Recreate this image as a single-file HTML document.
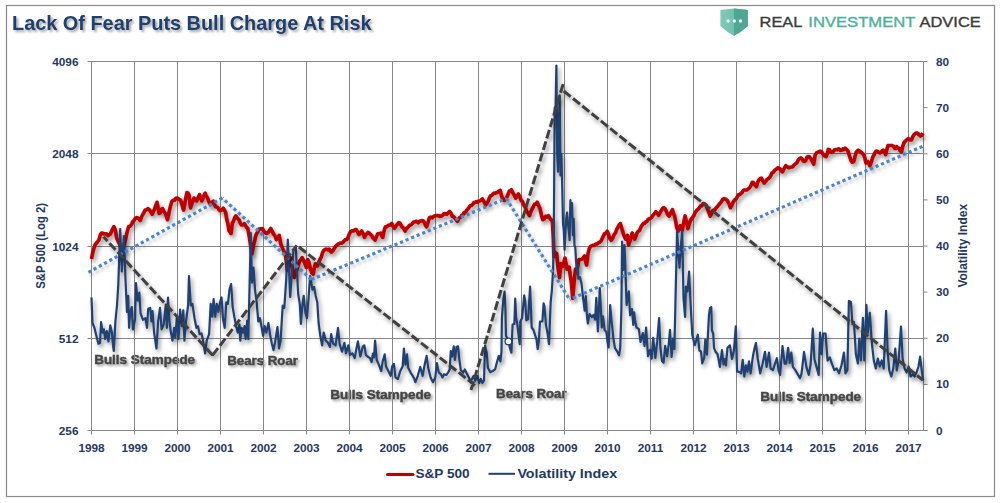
<!DOCTYPE html><html><head><meta charset="utf-8"><title>Lack Of Fear Puts Bull Charge At Risk</title><style>html,body{margin:0;padding:0;background:#fff;overflow:hidden;}svg{display:block;}.ax{font-family:"Liberation Sans",Arial,sans-serif;font-weight:bold;fill:#1F3864;}.an{font-family:"Liberation Sans",Arial,sans-serif;font-weight:bold;fill:#454545;stroke:#454545;stroke-width:0.45px;}</style></head><body><svg width="1004" height="503" viewBox="0 0 1004 503"><defs><filter id="sh" x="-5%" y="-5%" width="110%" height="110%" color-interpolation-filters="sRGB"><feGaussianBlur in="SourceAlpha" stdDeviation="1.9"/><feOffset dx="2.4" dy="3.2" result="b"/><feFlood flood-color="#000" flood-opacity="0.42"/><feComposite in2="b" operator="in"/><feMerge><feMergeNode/><feMergeNode in="SourceGraphic"/></feMerge></filter><filter id="tsh" x="-5%" y="-20%" width="110%" height="140%" color-interpolation-filters="sRGB"><feGaussianBlur in="SourceAlpha" stdDeviation="0.9"/><feOffset dx="1.5" dy="1.5" result="b"/><feFlood flood-color="#000" flood-opacity="0.35"/><feComposite in2="b" operator="in"/><feMerge><feMergeNode/><feMergeNode in="SourceGraphic"/></feMerge></filter><filter id="sh2" x="-5%" y="-5%" width="110%" height="110%" color-interpolation-filters="sRGB"><feGaussianBlur in="SourceAlpha" stdDeviation="1.5"/><feOffset dx="2" dy="2.5" result="b"/><feFlood flood-color="#000" flood-opacity="0.22"/><feComposite in2="b" operator="in"/><feMerge><feMergeNode/><feMergeNode in="SourceGraphic"/></feMerge></filter><linearGradient id="shl" x1="0" x2="1" y1="0" y2="0"><stop offset="0" stop-color="#7fcab8"/><stop offset="1" stop-color="#5bb8a3"/></linearGradient></defs><rect x="0" y="0" width="1004" height="503" fill="#fff"/><rect x="6.5" y="5.5" width="988" height="491" fill="none" stroke="#8a8a8a" stroke-width="1.2"/><text x="12" y="30" font-family="Liberation Sans,Arial,sans-serif" font-weight="bold" font-size="20.8" fill="#1F3F6E" textLength="359.5" lengthAdjust="spacingAndGlyphs" filter="url(#tsh)">Lack Of Fear Puts Bull Charge At Risk</text><path d="M720.4,9.9 L734,8.6 L747.8,9.9 L747.8,26.1 Q741,32.5 734,35.7 Q727,32.5 720.4,26.1 Z" fill="url(#shl)"/><path d="M734,8.6 L747.8,9.9 L747.8,26.1 Q741,32.5 734,35.7 Z" fill="#4fa693"/><circle cx="728" cy="21" r="1.7" fill="#fff"/><circle cx="734.2" cy="21" r="1.7" fill="#fff"/><circle cx="740.4" cy="21" r="1.7" fill="#fff"/><text x="759.6" y="26.8" font-family="Liberation Sans,Arial,sans-serif" font-size="14.1" fill="#3b3b3b" textLength="42.8" lengthAdjust="spacingAndGlyphs" stroke="#3b3b3b" stroke-width="0.35">REAL</text><text x="808.3" y="26.8" font-family="Liberation Sans,Arial,sans-serif" font-size="14.1" fill="#4fb09a" textLength="107.2" lengthAdjust="spacingAndGlyphs" stroke="#4fb09a" stroke-width="0.35">INVESTMENT</text><text x="919.5" y="26.8" font-family="Liberation Sans,Arial,sans-serif" font-size="14.1" fill="#3b3b3b" textLength="61.3" lengthAdjust="spacingAndGlyphs" stroke="#3b3b3b" stroke-width="0.35">ADVICE</text><text class="an" x="94.2" y="363.8" font-size="13" textLength="100.9" lengthAdjust="spacingAndGlyphs" filter="url(#tsh)">Bulls Stampede</text><text class="an" x="227.2" y="364.5" font-size="13" textLength="70.8" lengthAdjust="spacingAndGlyphs" filter="url(#tsh)">Bears Roar</text><text class="an" x="330.2" y="398.5" font-size="13" textLength="100.9" lengthAdjust="spacingAndGlyphs" filter="url(#tsh)">Bulls Stampede</text><text class="an" x="496.1" y="397.5" font-size="13" textLength="70.5" lengthAdjust="spacingAndGlyphs" filter="url(#tsh)">Bears Roar</text><text class="an" x="760.2" y="400.5" font-size="13" textLength="100.9" lengthAdjust="spacingAndGlyphs" filter="url(#tsh)">Bulls Stampede</text><path d="M91.5,61.5V434.5 M134.5,61.5V434.5 M177.5,61.5V434.5 M220.5,61.5V434.5 M263.5,61.5V434.5 M306.5,61.5V434.5 M349.5,61.5V434.5 M392.5,61.5V434.5 M435.5,61.5V434.5 M478.5,61.5V434.5 M521.5,61.5V434.5 M564.5,61.5V434.5 M607.5,61.5V434.5 M650.5,61.5V434.5 M693.5,61.5V434.5 M736.5,61.5V434.5 M779.5,61.5V434.5 M822.5,61.5V434.5 M865.5,61.5V434.5 M908.5,61.5V434.5 M87.5,61.5H923.5 M87.5,153.5H923.5 M87.5,246.5H923.5 M87.5,338.5H923.5 M87.5,430.5H927.5 M923.5,61.5V430.5 M923.5,430.5H927.5 M923.5,384.4H927.5 M923.5,338.2H927.5 M923.5,292.1H927.5 M923.5,246.0H927.5 M923.5,199.9H927.5 M923.5,153.8H927.5 M923.5,107.6H927.5 M923.5,61.5H927.5" stroke="#868686" stroke-width="1" fill="none"/><text class="ax" x="78.5" y="65.5" font-size="11.8" text-anchor="end">4096</text><text class="ax" x="78.5" y="157.5" font-size="11.8" text-anchor="end">2048</text><text class="ax" x="78.5" y="250.5" font-size="11.8" text-anchor="end">1024</text><text class="ax" x="78.5" y="342.5" font-size="11.8" text-anchor="end">512</text><text class="ax" x="78.5" y="434.5" font-size="11.8" text-anchor="end">256</text><text class="ax" x="936" y="434.5" font-size="11.8">0</text><text class="ax" x="936" y="388.4" font-size="11.8">10</text><text class="ax" x="936" y="342.2" font-size="11.8">20</text><text class="ax" x="936" y="296.1" font-size="11.8">30</text><text class="ax" x="936" y="250.0" font-size="11.8">40</text><text class="ax" x="936" y="203.9" font-size="11.8">50</text><text class="ax" x="936" y="157.8" font-size="11.8">60</text><text class="ax" x="936" y="111.6" font-size="11.8">70</text><text class="ax" x="936" y="65.5" font-size="11.8">80</text><text class="ax" x="91.5" y="451.7" font-size="11.8" text-anchor="middle">1998</text><text class="ax" x="134.5" y="451.7" font-size="11.8" text-anchor="middle">1999</text><text class="ax" x="177.5" y="451.7" font-size="11.8" text-anchor="middle">2000</text><text class="ax" x="220.5" y="451.7" font-size="11.8" text-anchor="middle">2001</text><text class="ax" x="263.5" y="451.7" font-size="11.8" text-anchor="middle">2002</text><text class="ax" x="306.5" y="451.7" font-size="11.8" text-anchor="middle">2003</text><text class="ax" x="349.5" y="451.7" font-size="11.8" text-anchor="middle">2004</text><text class="ax" x="392.5" y="451.7" font-size="11.8" text-anchor="middle">2005</text><text class="ax" x="435.5" y="451.7" font-size="11.8" text-anchor="middle">2006</text><text class="ax" x="478.5" y="451.7" font-size="11.8" text-anchor="middle">2007</text><text class="ax" x="521.5" y="451.7" font-size="11.8" text-anchor="middle">2008</text><text class="ax" x="564.5" y="451.7" font-size="11.8" text-anchor="middle">2009</text><text class="ax" x="607.5" y="451.7" font-size="11.8" text-anchor="middle">2010</text><text class="ax" x="650.5" y="451.7" font-size="11.8" text-anchor="middle">2011</text><text class="ax" x="693.5" y="451.7" font-size="11.8" text-anchor="middle">2012</text><text class="ax" x="736.5" y="451.7" font-size="11.8" text-anchor="middle">2013</text><text class="ax" x="779.5" y="451.7" font-size="11.8" text-anchor="middle">2014</text><text class="ax" x="822.5" y="451.7" font-size="11.8" text-anchor="middle">2015</text><text class="ax" x="865.5" y="451.7" font-size="11.8" text-anchor="middle">2016</text><text class="ax" x="908.5" y="451.7" font-size="11.8" text-anchor="middle">2017</text><text class="ax" font-size="12" text-anchor="middle" transform="translate(45,245.9) rotate(-90)" textLength="85.8" lengthAdjust="spacingAndGlyphs">S&amp;P 500 (Log 2)</text><text class="ax" font-size="12.5" text-anchor="middle" transform="translate(967,245.75) rotate(-90)" textLength="83.7" lengthAdjust="spacingAndGlyphs">Volatility Index</text><polyline points="91.5,259.0 92.5,253.8 93.8,248.8 95.2,244.5 97.0,242.5 98.9,240.0 100.5,234.5 101.5,233.2 102.5,233.2 103.6,233.8 104.7,233.9 106.3,233.9 107.9,235.5 109.2,234.8 110.4,234.0 111.5,231.5 112.7,228.8 113.9,226.6 115.3,230.0 116.8,238.5 118.5,242.0 119.5,243.7 120.5,247.0 121.5,249.0 122.5,251.0 124.0,246.0 125.4,240.0 127.0,232.5 128.7,226.5 130.2,226.2 131.7,224.2 132.7,221.8 133.7,221.0 135.2,218.5 136.7,217.5 137.5,217.7 138.9,218.9 140.3,220.4 141.5,217.0 142.8,214.5 144.0,212.5 145.2,210.0 146.6,209.9 148.0,208.6 149.4,209.8 150.8,211.8 152.2,214.2 153.4,211.5 154.6,209.1 155.8,205.4 157.0,202.3 158.1,207.7 159.1,213.5 160.3,212.7 161.4,209.4 162.6,208.6 164.0,211.7 165.4,213.5 166.4,216.2 167.5,219.7 168.9,213.0 170.3,206.9 171.7,201.6 173.1,200.4 174.5,200.4 175.9,198.4 177.3,198.1 178.4,198.9 179.6,199.8 180.7,200.2 182.1,204.9 183.5,210.0 184.7,204.3 185.8,197.6 187.0,192.6 188.1,193.2 189.1,195.3 190.5,207.9 191.7,204.1 192.8,201.7 194.0,198.1 195.4,199.4 196.8,200.9 198.2,197.4 199.6,194.6 200.6,197.9 201.7,200.9 202.9,198.2 204.0,195.4 205.2,193.2 206.3,196.1 207.5,198.0 208.9,201.7 210.4,204.7 211.9,202.4 213.4,201.1 214.4,203.9 215.5,206.5 216.7,207.1 217.9,207.7 219.1,209.8 220.3,210.6 221.8,209.9 223.3,208.3 224.4,210.0 225.6,212.4 226.7,219.3 227.9,223.8 229.0,230.6 230.0,231.9 231.0,233.4 232.4,222.9 233.6,221.0 234.7,217.6 235.9,215.9 236.9,217.3 238.0,218.7 239.2,220.0 240.3,223.2 241.5,225.0 242.9,224.8 244.3,223.6 245.5,225.4 246.6,227.5 247.8,228.5 249.5,238.0 250.7,245.7 251.9,254.0 253.5,245.0 254.8,240.2 256.1,234.7 257.5,232.1 258.9,229.2 260.1,229.1 261.2,228.7 262.4,228.5 263.8,231.2 265.2,232.7 266.6,233.5 268.0,232.7 269.4,230.6 270.8,228.5 272.2,231.5 273.6,234.0 275.0,236.0 276.4,239.6 277.8,237.9 279.2,235.4 280.8,244.0 282.4,247.9 283.9,251.3 285.7,256.0 287.4,270.5 288.8,264.9 290.2,257.5 291.6,264.7 293.0,270.4 294.4,277.5 295.8,272.8 297.2,268.8 298.6,264.0 299.8,261.0 300.9,259.7 302.1,257.6 303.5,260.2 304.9,263.4 306.3,267.3 307.7,259.5 309.1,263.2 310.4,268.9 311.8,272.9 313.2,274.3 314.2,268.5 315.3,264.0 316.4,264.5 317.4,266.0 318.8,262.3 320.2,259.0 321.4,256.9 322.5,252.6 323.7,250.6 324.8,249.8 325.8,249.2 327.0,249.3 328.1,249.9 329.3,249.2 330.4,251.2 331.4,252.0 332.8,250.9 334.2,248.5 335.6,246.4 337.0,245.0 338.2,244.2 339.3,243.5 340.5,243.1 341.7,243.1 342.8,242.5 344.0,241.0 345.4,239.7 346.8,239.6 347.8,238.0 349.2,234.3 350.6,231.7 352.0,230.9 353.4,231.0 354.8,229.8 356.2,229.6 357.6,232.0 359.0,234.5 360.4,232.9 361.7,231.0 363.1,233.7 364.5,237.3 365.7,234.8 366.8,233.9 368.0,232.4 369.2,233.1 370.3,234.4 371.5,235.2 372.7,237.6 373.8,238.8 375.0,240.1 376.4,237.0 377.8,233.8 379.2,233.7 380.6,233.1 381.6,235.5 382.7,237.3 384.0,231.2 385.4,226.8 386.8,226.8 388.2,225.4 389.4,225.2 390.5,224.7 391.7,223.4 393.1,226.3 394.5,228.2 395.9,226.2 397.3,224.4 398.7,222.7 399.8,223.0 400.8,224.7 402.2,227.0 403.6,228.1 405.0,231.0 406.4,228.5 407.8,227.5 408.9,226.0 410.1,225.0 411.2,224.7 412.4,223.5 413.5,222.1 414.7,222.0 415.9,221.3 417.0,221.8 418.2,222.7 419.4,221.3 420.5,221.1 421.7,220.6 423.1,220.8 424.5,222.7 425.6,225.4 426.6,226.8 428.0,222.5 429.4,217.8 430.8,217.2 432.2,217.8 433.4,216.7 434.5,216.1 435.7,215.7 437.1,215.7 438.4,215.5 439.8,216.4 441.2,216.1 442.6,215.4 444.0,213.6 445.4,213.9 446.8,214.3 448.2,212.9 449.6,211.5 451.0,213.2 452.4,216.4 453.6,216.6 454.7,218.0 455.9,219.2 457.3,221.3 458.4,219.1 459.4,217.8 460.6,217.5 461.7,215.3 462.9,215.0 464.0,212.7 465.2,213.0 466.3,210.8 467.7,209.1 469.1,207.3 470.3,205.7 471.4,205.5 472.6,204.5 473.8,202.7 474.9,202.7 476.1,201.7 477.5,202.2 478.9,201.0 480.1,201.0 481.2,200.0 482.4,199.0 484.0,201.6 485.6,205.1 487.0,202.8 488.4,200.9 489.4,197.9 490.5,196.0 491.6,195.6 492.8,194.2 493.9,193.2 495.1,193.5 496.2,192.5 497.4,192.6 498.8,191.1 500.2,190.5 501.6,195.9 503.0,200.2 504.4,200.4 505.8,198.8 507.0,196.9 508.1,194.3 509.3,191.2 510.4,191.1 511.4,189.8 512.5,192.3 513.5,194.0 514.5,195.6 515.6,198.1 517.0,196.1 518.4,194.0 519.8,196.8 521.1,200.2 522.5,201.8 523.9,205.1 525.3,207.4 526.7,211.4 528.1,213.1 529.5,215.6 530.5,212.4 531.6,210.0 533.0,207.5 534.4,204.4 535.8,204.2 537.2,202.3 538.6,205.4 540.0,208.6 541.4,214.9 542.8,219.7 544.2,218.9 545.6,216.3 547.0,216.8 548.3,215.6 549.3,217.1 550.4,219.1 551.5,219.9 552.5,221.8 553.4,240.0 553.9,256.7 555.3,252.5 556.7,253.9 558.1,267.8 559.5,277.6 560.9,263.6 561.9,264.5 562.9,266.4 564.0,261.7 565.0,258.1 566.0,263.1 567.1,269.2 568.2,268.4 569.2,267.1 570.2,275.1 571.3,281.7 572.7,298.4 574.1,281.7 575.5,269.2 576.5,269.1 577.6,267.8 578.9,259.5 580.0,259.5 581.0,259.5 582.0,259.1 583.1,258.1 584.5,256.0 585.5,261.0 586.6,265.0 588.0,253.9 589.4,248.3 590.8,246.2 592.2,245.6 593.3,245.4 594.5,245.4 595.6,244.2 597.0,244.0 598.4,242.8 599.8,242.2 601.2,240.7 602.4,238.1 603.6,235.5 604.8,233.5 606.0,233.2 607.2,231.3 608.4,234.3 609.5,237.9 611.3,240.3 612.8,237.8 614.3,234.3 615.5,232.8 616.7,229.4 617.9,227.2 619.1,225.2 620.3,223.6 622.1,229.5 623.9,235.5 625.7,239.1 627.4,235.5 628.6,245.0 630.4,239.1 632.2,233.1 633.4,236.9 634.6,239.1 635.8,236.5 637.0,233.1 638.2,231.3 639.4,230.7 640.9,227.1 642.4,224.8 643.6,223.2 644.7,223.5 645.9,221.8 647.1,221.4 648.3,219.2 649.5,218.8 650.7,218.2 651.8,217.3 653.0,215.3 654.4,213.8 655.8,211.8 657.2,213.3 658.6,215.3 660.0,212.9 661.4,210.4 662.5,208.4 663.5,207.7 664.9,208.5 666.2,211.1 667.6,214.4 669.0,216.0 670.2,214.2 671.3,211.8 672.5,209.7 673.5,213.6 674.6,216.0 675.7,221.5 676.7,227.2 678.1,231.0 679.2,229.1 680.2,225.8 681.2,228.5 682.3,230.0 683.7,222.5 685.1,216.0 686.5,221.9 687.9,228.6 689.0,224.7 690.0,221.6 691.4,219.0 692.7,217.4 693.9,215.5 695.0,212.8 696.2,211.1 697.6,209.6 699.0,208.4 700.4,206.1 701.8,205.9 703.2,203.5 704.6,203.9 706.0,204.9 707.0,207.6 708.1,210.4 709.2,213.4 710.2,216.0 711.2,214.3 712.3,211.1 713.5,210.1 714.6,210.1 715.8,208.4 717.2,206.8 718.5,205.2 719.9,203.5 721.3,201.9 722.7,199.4 724.1,198.6 725.5,199.2 726.9,200.0 728.1,202.0 729.2,204.2 730.4,207.7 731.8,205.4 733.2,202.1 734.6,200.0 736.0,199.0 737.2,196.9 738.4,194.9 739.6,194.6 740.7,193.6 741.9,192.8 742.9,191.1 743.9,190.0 745.3,190.0 746.7,190.0 748.1,189.0 749.5,187.9 750.9,185.6 752.3,182.3 753.3,182.6 754.4,184.4 755.5,185.6 756.5,186.5 757.5,182.9 758.6,180.2 760.0,178.7 761.4,178.1 762.8,181.0 764.2,183.0 765.6,181.3 767.0,179.5 768.4,178.6 769.7,177.4 770.8,175.8 771.8,173.2 773.2,172.5 774.6,170.4 775.8,169.4 776.9,168.8 778.1,167.7 779.2,168.4 780.2,169.1 781.2,170.5 782.3,171.8 783.5,170.1 784.6,167.6 785.8,165.6 787.2,166.7 788.6,167.7 790.0,167.3 791.4,167.0 792.6,166.9 793.7,165.5 794.9,164.2 796.0,163.5 797.2,162.2 798.3,160.0 799.7,158.5 801.1,157.9 802.3,159.2 803.4,161.0 804.6,161.4 805.8,160.4 806.9,157.5 808.1,156.5 809.5,156.9 810.9,158.6 812.3,161.3 813.7,164.2 815.1,155.1 816.5,152.9 817.9,152.3 819.1,151.6 820.2,151.1 821.4,151.6 822.4,153.3 823.4,154.4 824.8,156.0 826.2,156.5 827.2,153.7 828.3,149.5 829.5,149.8 830.6,151.8 831.8,152.3 833.2,151.7 834.6,149.8 836.0,149.5 837.4,149.8 838.8,148.8 840.2,150.3 841.6,150.2 842.8,149.0 843.9,149.6 845.1,148.1 846.5,149.3 847.9,150.9 848.9,154.0 849.9,157.2 851.0,160.5 852.0,162.1 853.0,162.0 854.1,160.7 855.2,155.9 856.2,152.3 857.2,151.1 858.3,150.2 859.7,151.3 861.1,152.3 862.5,153.4 863.9,155.1 865.0,158.5 866.0,163.0 867.9,161.7 868.9,163.4 869.9,165.7 871.4,161.7 872.9,156.8 873.9,155.2 874.9,152.8 876.1,151.2 877.4,151.3 878.7,152.2 880.0,153.0 881.6,151.5 883.2,150.3 884.4,151.6 885.6,154.6 886.8,149.7 888.0,145.5 889.3,145.7 890.6,145.5 891.9,145.5 893.3,146.1 894.7,148.3 895.7,148.4 896.7,146.7 897.9,148.0 899.1,148.3 900.3,150.9 901.5,151.9 902.6,146.8 903.8,143.1 905.0,141.3 906.2,140.3 907.8,138.9 909.4,139.1 910.4,140.0 911.4,139.9 912.8,136.7 914.2,134.4 915.8,133.1 917.4,133.2 919.0,134.5 920.5,136.0 921.7,135.3 922.9,133.2" fill="none" stroke="#C00000" stroke-width="3.7" stroke-linejoin="round" filter="url(#sh)"/><polyline points="91.5,297.5 92.5,323.0 94.4,327.8 96.8,337.4 98.4,343.7 100.0,343.0 101.1,322.2 102.7,332.6 103.9,329.4 105.2,339.0 106.8,331.0 108.4,341.4 110.3,325.4 111.9,332.6 113.2,346.9 113.8,350.9 115.4,321.4 117.0,305.5 118.3,284.8 120.2,229.0 121.8,271.5 123.9,236.0 125.5,280.0 127.0,311.9 128.2,295.9 129.1,327.8 130.2,311.9 131.8,307.1 132.9,329.4 135.0,319.8 136.0,283.0 137.7,300.7 139.3,292.7 140.6,313.5 143.0,319.8 145.4,318.2 147.0,327.8 148.2,308.7 150.2,307.9 151.4,321.4 152.5,311.1 154.1,332.6 156.5,348.5 158.1,321.4 160.0,307.9 161.6,329.4 163.7,324.6 165.8,304.7 166.9,327.8 168.0,297.5 169.3,319.8 170.9,332.6 172.5,340.6 174.1,327.8 175.3,337.4 176.9,316.7 178.5,339.0 180.1,309.5 182.0,326.2 183.3,310.3 184.4,340.6 186.0,321.4 188.1,305.5 189.0,276.0 190.8,305.5 192.4,303.9 194.5,318.2 196.4,327.8 198.0,326.2 199.6,334.2 201.5,333.4 203.1,340.6 205.1,353.3 206.7,340.6 209.1,334.2 210.7,303.9 212.3,316.7 213.6,299.1 215.2,316.7 216.8,303.9 218.4,311.9 220.0,302.3 221.5,297.5 223.1,319.8 224.7,327.8 226.3,302.3 227.9,303.9 229.5,289.6 231.1,284.0 232.7,307.1 234.3,316.7 236.2,326.2 237.8,332.6 239.4,324.6 240.3,340.6 241.6,327.8 243.2,332.6 244.5,326.2 245.6,339.0 247.2,320.6 248.3,339.0 249.6,284.8 250.8,233.2 252.0,282.6 253.5,267.5 255.1,290.6 256.7,302.3 258.3,321.4 259.9,318.2 261.2,324.6 263.1,335.8 264.7,326.2 266.3,332.6 268.4,323.0 270.0,334.2 271.9,343.7 273.5,350.1 275.1,342.2 277.5,327.0 279.0,348.5 280.6,340.6 282.7,305.5 284.3,307.9 286.2,280.0 287.8,239.6 290.2,296.9 291.8,274.5 293.4,250.7 295.8,248.3 298.2,294.3 299.8,303.9 300.9,323.8 302.5,303.9 303.7,295.9 305.3,311.9 306.9,318.2 308.5,299.1 310.1,276.0 312.5,289.6 314.1,287.0 315.7,295.9 317.3,302.3 318.6,323.0 320.2,335.0 322.1,345.3 323.7,332.6 325.7,340.6 327.6,342.2 330.0,346.9 331.2,334.2 333.2,343.7 335.6,345.3 338.0,327.8 339.6,343.7 342.0,351.7 344.4,342.9 346.0,353.3 348.4,345.3 350.0,354.9 352.4,353.3 354.7,358.1 356.3,349.2 357.9,341.4 360.3,356.5 362.7,346.9 364.3,345.3 365.9,354.9 367.5,356.5 370.0,358.2 371.6,362.2 372.9,353.5 374.0,357.5 375.1,340.7 376.7,359.8 378.8,364.6 381.2,371.0 382.7,361.4 384.7,354.3 385.9,366.2 388.3,371.0 390.7,375.8 392.3,366.2 393.9,363.8 395.5,377.4 397.9,379.0 400.3,371.0 402.7,366.2 403.9,348.7 405.4,364.6 407.0,354.3 408.2,367.8 410.6,372.6 412.7,375.8 414.0,378.2 415.4,382.2 417.8,375.8 420.2,367.0 422.6,375.8 425.0,363.0 426.6,355.9 428.2,367.8 430.6,377.4 433.0,382.2 435.3,377.4 436.9,363.0 438.8,372.6 440.9,374.2 442.5,377.4 444.1,374.2 446.2,375.0 448.1,372.6 449.7,369.4 450.8,351.1 452.1,356.7 453.7,346.3 454.9,359.8 456.4,347.1 458.0,346.3 459.2,358.2 460.8,370.2 463.2,372.6 464.8,369.4 467.2,374.2 469.6,379.0 471.2,380.6 473.6,375.8 475.2,380.6 477.1,375.8 479.2,383.0 480.8,379.0 482.4,383.0 484.0,380.6 485.1,345.5 486.7,352.7 487.9,367.8 490.3,372.2 492.7,371.0 495.1,369.4 496.7,363.0 498.8,355.9 500.4,361.4 501.5,351.9 501.9,317.7 503.3,300.0 504.6,291.5 505.4,309.6 506.0,335.8 508.4,341.2 509.9,347.8 511.4,352.6 512.6,324.5 514.4,323.9 515.2,298.6 516.2,318.0 517.3,323.9 518.5,334.6 519.7,344.2 520.3,321.5 522.1,317.9 524.2,295.4 525.3,302.0 526.3,320.3 528.1,319.1 530.1,286.7 531.7,327.5 533.5,330.0 535.0,334.9 536.5,339.4 537.7,349.0 538.9,340.6 540.0,321.5 542.4,321.5 543.6,303.4 544.4,306.0 546.0,325.1 547.5,333.0 549.0,344.2 550.7,301.8 551.9,290.0 553.1,270.3 553.9,222.3 554.7,107.9 555.6,106.1 556.4,65.5 557.2,154.3 558.0,171.7 558.9,124.6 559.7,95.3 560.5,175.5 561.3,154.1 562.1,180.1 563.0,223.3 563.8,230.4 564.6,249.7 565.4,233.0 566.3,217.8 567.1,212.5 567.9,223.7 568.8,230.5 569.6,240.2 570.4,200.1 571.2,216.7 572.0,203.0 572.9,235.1 573.7,218.8 574.5,245.7 575.3,247.4 576.1,262.0 577.0,274.0 577.8,265.0 578.3,278.7 579.9,277.1 581.5,283.5 583.1,297.8 584.7,310.6 585.8,296.2 587.1,318.0 587.9,323.5 589.5,314.0 591.9,317.2 593.5,314.8 595.1,319.6 596.3,297.8 597.9,331.5 599.8,288.2 601.8,327.5 603.0,316.4 604.6,329.9 606.5,332.3 607.5,341.9 608.6,347.5 610.2,305.0 611.5,320.0 613.4,338.7 615.0,348.2 617.1,351.4 619.0,355.4 620.2,348.2 621.4,310.0 622.1,241.5 623.2,270.0 624.5,245.0 625.3,265.9 626.6,305.0 628.8,291.4 630.1,315.3 632.0,309.0 633.3,325.0 634.1,312.4 635.0,320.1 636.5,327.5 638.9,329.1 640.5,341.9 642.9,333.1 644.5,345.9 646.1,327.5 648.0,356.2 650.0,349.8 651.6,358.6 653.2,337.9 655.3,357.8 657.2,341.9 659.1,318.0 660.4,347.5 662.0,361.0 663.6,362.6 665.2,345.9 667.1,356.2 668.7,344.3 670.0,329.9 671.6,357.0 673.1,338.7 674.4,349.0 675.5,300.0 677.1,231.3 679.5,267.7 680.5,250.0 682.2,231.3 683.5,297.8 685.1,316.9 685.9,286.7 687.5,291.4 689.1,271.5 690.7,305.8 692.3,334.7 694.7,345.1 696.2,340.3 697.8,334.7 699.4,350.6 701.0,351.4 702.2,363.4 704.2,357.8 705.3,339.5 706.9,354.6 709.0,314.8 710.0,308.0 711.3,307.2 711.9,330.3 713.2,333.5 714.0,347.8 715.6,351.8 717.6,354.2 718.8,360.6 719.9,366.9 722.0,350.2 723.5,364.5 725.1,359.0 725.9,365.3 727.5,347.8 729.9,345.4 732.0,359.0 733.9,351.0 735.8,326.3 737.1,371.7 738.7,371.7 741.1,373.3 742.7,359.8 744.3,376.5 745.9,365.3 747.5,371.7 749.0,361.4 750.6,373.3 753.0,355.8 754.5,348.5 755.9,343.0 757.8,359.0 760.2,373.3 762.6,363.7 765.0,351.8 766.6,366.9 769.0,352.6 770.6,368.5 772.9,370.1 775.0,363.7 776.9,358.2 778.5,370.1 780.1,374.9 782.5,346.2 784.6,363.7 786.2,363.7 788.1,347.8 789.7,362.9 791.3,352.6 792.9,366.9 795.3,370.1 797.6,374.1 800.0,378.1 801.6,373.3 804.0,351.8 806.4,366.9 808.8,374.9 810.7,363.7 812.8,328.7 814.4,359.0 816.5,366.9 818.7,374.9 820.0,332.7 821.6,354.2 823.1,333.5 825.5,333.5 827.6,360.6 829.8,357.4 831.9,363.7 834.3,370.1 836.7,368.5 839.1,373.3 841.5,365.3 843.9,352.6 845.5,373.3 847.4,370.1 848.9,300.9 850.9,301.9 852.3,322.8 853.9,321.8 855.9,354.6 857.9,363.5 859.3,338.7 860.9,360.5 862.9,317.8 864.3,360.5 866.4,304.9 867.8,332.7 869.8,312.8 871.8,342.7 873.8,360.5 875.8,368.5 877.8,358.6 879.8,366.5 881.7,360.5 883.7,368.5 886.1,310.8 887.7,352.6 889.3,370.5 891.3,376.5 893.3,368.5 895.3,348.6 896.7,370.5 898.6,360.5 901.0,326.7 902.6,358.6 904.6,368.5 906.6,372.5 908.6,366.5 910.6,376.5 912.6,374.5 914.6,376.5 916.5,372.5 918.5,366.5 920.1,356.6 921.5,368.5 923.1,380.5" fill="none" stroke="#1F4173" stroke-width="2.2" stroke-linejoin="round" filter="url(#sh)"/><circle cx="508.4" cy="341.4" r="3.3" fill="#fff" stroke="#1F4173" stroke-width="1.2"/><path d="M88.4,272.4L222.3,198 M311.4,279.5L222.3,198 M311.4,279.5L506.3,198.5 M506.3,198.5L569.7,299.5 M922.5,146.4L569.7,299.5" fill="none" stroke="#4A86CF" stroke-width="3.2" stroke-dasharray="3.2 2.8" filter="url(#sh2)"/><path d="M212.6,355.2L103.5,236.7 M212.6,355.2L296.8,245.3 M475,385.3L296.8,245.3 M471,390L563.3,83.6 M563.7,91L922.7,380" fill="none" stroke="#404040" stroke-width="3" stroke-dasharray="8.95 2.99" filter="url(#sh)"/><line x1="387.5" y1="474.5" x2="413" y2="474.5" stroke="#C00000" stroke-width="3" stroke-linecap="round"/><text class="ax" x="415.4" y="478.4" font-size="13" textLength="54.2" lengthAdjust="spacingAndGlyphs">S&amp;P 500</text><line x1="488.5" y1="473.8" x2="515" y2="473.8" stroke="#1F4173" stroke-width="2"/><text class="ax" x="517.4" y="478.4" font-size="13" textLength="99.8" lengthAdjust="spacingAndGlyphs">Volatility Index</text></svg></body></html>
